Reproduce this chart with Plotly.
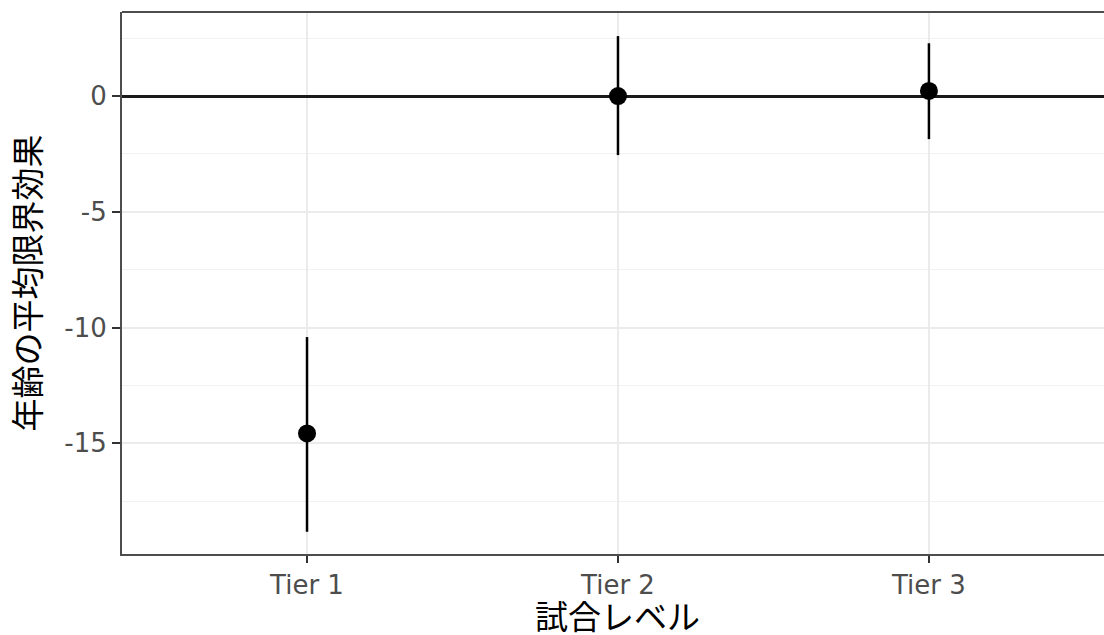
import plotly.graph_objects as go

tiers = ["Tier 1", "Tier 2", "Tier 3"]
estimate = [-14.57, 0.0, 0.22]
upper = [-10.41, 2.59, 2.28]
lower = [-18.82, -2.55, -1.86]
ytick_vals = [-15, -10, -5, 0]
ytick_text = ["-15", "-10", "-5", "0"]

xpos = [1, 2, 3]
err_plus = [u - e for u, e in zip(upper, estimate)]
err_minus = [e - l for e, l in zip(estimate, lower)]

fig = go.Figure()
fig.add_trace(go.Scatter(
    x=xpos, y=estimate, mode="markers",
    marker=dict(color="black", size=18),
    error_y=dict(type="data", symmetric=False, array=err_plus, arrayminus=err_minus,
                 color="black", thickness=2.5, width=0),
    showlegend=False,
))

tick_font = dict(family="DejaVu Sans", size=26, color="#4d4d4d")
title_font = dict(family="Noto Sans CJK JP", size=33, color="black")

fig.update_layout(
    width=1104, height=635,
    margin=dict(l=122, r=0, t=12, b=81),
    paper_bgcolor="white", plot_bgcolor="white",
    xaxis=dict(
        range=[0.405, 3.563],
        tickvals=xpos, ticktext=tiers,
        tickfont=tick_font,
        showgrid=True, gridcolor="#ebebeb", gridwidth=2,
        showline=True, linecolor="#4d4d4d", linewidth=2, mirror=False,
        ticks="outside", ticklen=7, tickcolor="#333333", tickwidth=2,
        zeroline=False,
        automargin=False,
    ),
    yaxis=dict(
        range=[-19.78, 3.63],
        tickvals=ytick_vals, ticktext=ytick_text,
        tickfont=tick_font,
        showgrid=True, gridcolor="#ebebeb", gridwidth=2,
        minor=dict(tickvals=[-17.5, -12.5, -7.5, -2.5, 2.5], showgrid=True,
                   gridcolor="#f2f2f2", gridwidth=1),
        showline=True, linecolor="#4d4d4d", linewidth=2, mirror=False,
        ticks="outside", ticklen=8, tickcolor="#333333", tickwidth=2,
        zeroline=True, zerolinecolor="#1a1a1a", zerolinewidth=2.5,
        title=dict(text="年齢の平均限界効果", font=title_font, standoff=14),
        automargin=False,
    ),
    shapes=[dict(type="line", xref="paper", yref="paper", x0=0, x1=1, y0=1, y1=1,
                 line=dict(color="#4d4d4d", width=2))],
    annotations=[dict(text="試合レベル", font=title_font, xref="paper", yref="paper",
                      x=0.505, y=0, xanchor="center", yanchor="middle", yshift=-61,
                      showarrow=False)],
)

fig.write_html("out.html", config={"displayModeBar": False},
               post_script="document.body.style.margin='0';document.body.style.overflow='hidden';")
